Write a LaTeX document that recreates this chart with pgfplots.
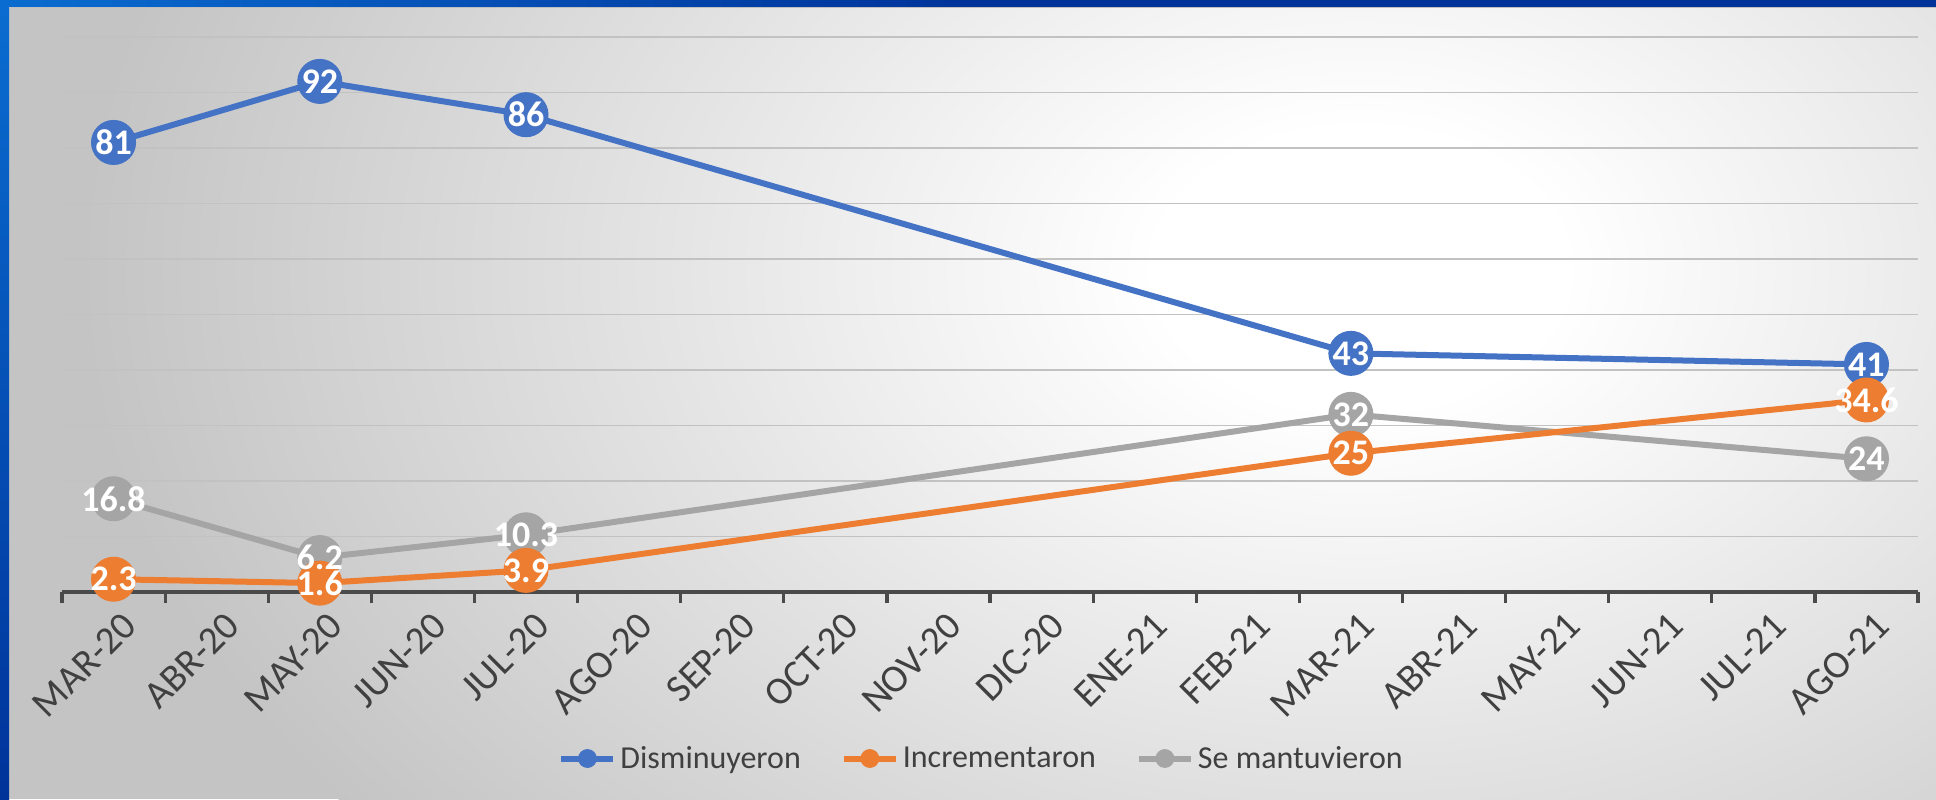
\documentclass[border=0pt]{standalone}
\usepackage{fontspec}
\setmainfont{Carlito}
\usepackage{pgfplots}
\pgfplotsset{compat=1.18}
\usepackage{pgfplotstable}
\definecolor{cblue}{HTML}{4472C4}
\definecolor{corange}{HTML}{ED7D31}
\definecolor{cgray}{HTML}{A5A5A5}
\definecolor{ctext}{HTML}{404040}
\definecolor{caxis}{HTML}{4A4A4A}
\definecolor{bgray}{HTML}{C4C4C4}
\definecolor{blueA}{HTML}{0A6CD0}
\definecolor{blueB}{HTML}{00339A}
\pgfdeclareradialshading{bgshade}{\pgfpointorigin}{color(0bp)=(white); color(4bp)=(white); color(25bp)=(bgray); color(50bp)=(bgray)}

\pgfplotstableread{
x y lab
0 81 81
2 92 92
4 86 86
12 43 43
17 41 41
}\dis
\pgfplotstableread{
x y lab
0 2.3 2.3
2 1.6 1.6
4 3.9 3.9
12 25 25
17 34.6 34.6
}\inc
\pgfplotstableread{
x y lab
0 16.8 16.8
2 6.2 6.2
4 10.3 10.3
12 32 32
17 24 24
}\sem

\begin{document}
\begin{tikzpicture}
\useasboundingbox (0,0) rectangle (968pt,399.5pt);
\fill[bgray] (0,0) rectangle (968pt,399.5pt);
\begin{scope}
\clip (0,0) rectangle (968pt,399.5pt);
\shade[shading=bgshade] (680pt,265pt) ellipse [x radius=640pt, y radius=440pt];
\end{scope}
\shade[left color=blueA, right color=blueB, middle color=blueB] (0,396pt) rectangle (968pt,399.5pt);
\shade[top color=blueA, bottom color=blueB] (0,0) rectangle (4.5pt,396pt);
\fill[black!25] (4.5pt,395.3pt) rectangle (968pt,396pt);

\begin{axis}[
  at={(31pt,103.5pt)}, anchor=south west, scale only axis,
  width=928pt, height=277.5pt,
  xmin=-0.5, xmax=17.5, ymin=0, ymax=100,
  clip=false,
  axis lines*=left,
  y axis line style={draw=none},
  x axis line style={draw=caxis, line width=1.8pt},
  ytick={0,10,20,30,40,50,60,70,80,90,100},
  yticklabels={},
  ytick style={draw=none},
  ymajorgrids,
  grid style={draw=black!24, line width=0.9pt},
  xtick={0,1,2,3,4,5,6,7,8,9,10,11,12,13,14,15,16,17},
  xticklabels={MAR-20,ABR-20,MAY-20,JUN-20,JUL-20,AGO-20,SEP-20,OCT-20,NOV-20,DIC-20,ENE-21,FEB-21,MAR-21,ABR-21,MAY-21,JUN-21,JUL-21,AGO-21},
  minor xtick={-0.5,0.5,1.5,2.5,3.5,4.5,5.5,6.5,7.5,8.5,9.5,10.5,11.5,12.5,13.5,14.5,15.5,16.5,17.5},
  tick align=outside,
  major tick length=0pt,
  minor tick length=5.5pt,
  xtick style={draw=caxis, line width=1.6pt},
  xticklabel style={rotate=45, anchor=east, font=\fontsize{19.5}{22}\selectfont, text=ctext, xshift=-0.5pt, yshift=-15.5pt},
  legend columns=-1,
  legend style={at={(0.496,-0.3)}, anchor=center, draw=none, fill=none,
    font=\fontsize{16}{19}\selectfont, text=ctext,
    /tikz/every even column/.append style={column sep=18pt}},
  legend image code/.code={\draw[#1, line width=3pt] (0pt,0pt) -- (26pt,0pt); \fill[#1] (13pt,0pt) circle (4.5pt);},
]
\addlegendimage{cblue}
\addlegendentry{Disminuyeron}
\addlegendimage{corange}
\addlegendentry{Incrementaron}
\addlegendimage{cgray}
\addlegendentry{Se mantuvieron}

\addplot[cblue, line width=3pt, mark=*, mark size=11pt, mark options={line width=0.5pt}, forget plot] table[x=x,y=y]{\dis};
\addplot[cgray, line width=3pt, mark=*, mark size=11pt, mark options={line width=0.5pt}, forget plot] table[x=x,y=y]{\sem};
\addplot[corange, line width=3pt, mark=*, mark size=11pt, mark options={line width=0.5pt}, forget plot] table[x=x,y=y]{\inc};

\pgfplotsset{lbl/.style={draw=none, mark=none, forget plot, nodes near coords, point meta=explicit symbolic,
  every node near coord/.append style={anchor=center, text=white, inner sep=0pt, font=\bfseries\fontsize{18}{20}\selectfont}}}
\addplot[lbl] table[x=x,y=y,meta=lab]{\dis};
\addplot[lbl] table[x=x,y=y,meta=lab]{\inc};
\addplot[lbl] table[x=x,y=y,meta=lab]{\sem};
\end{axis}
\end{tikzpicture}
\end{document}
